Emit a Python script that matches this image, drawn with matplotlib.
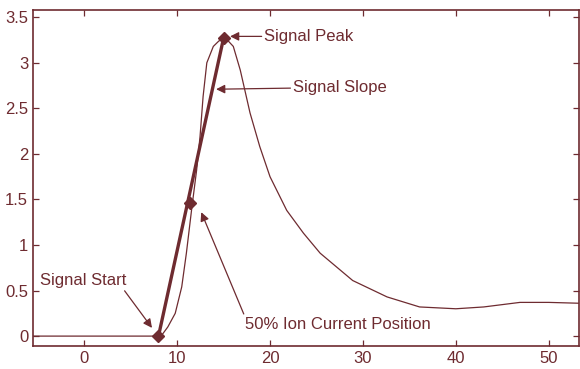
import numpy as np
import matplotlib.pyplot as plt

color = '#6e2b30'

# thin signal curve
t = [-5.5, 8, 8.35, 9, 9.8, 10.5, 11.0, 11.6, 12.1, 12.47, 12.8, 13.2, 13.9, 14.5, 15.0, 15.5,
     16.05, 16.8, 17.85, 18.9, 20.0, 21.8, 23.6, 25.4, 28.9, 32.6, 36.1, 40, 43, 46.9, 50, 53.5]
signal = [0, 0, 0.01, 0.1, 0.25, 0.54, 0.91, 1.42, 1.82, 2.19, 2.63, 3.0, 3.18, 3.24, 3.26, 3.24,
          3.18, 2.92, 2.45, 2.08, 1.75, 1.38, 1.13, 0.91, 0.61, 0.43, 0.32, 0.3, 0.32, 0.37, 0.37, 0.36]

# slope line and marked points
slope_x = [8, 15]
slope_y = [0, 3.27]
marks_x = [8, 11.4, 15]
marks_y = [0, 1.46, 3.27]

xticks = [0, 10, 20, 30, 40, 50]
yticks = [0, 0.5, 1, 1.5, 2, 2.5, 3, 3.5]
ytick_labels = ['0', '0.5', '1', '1.5', '2', '2.5', '3', '3.5']

plt.rcParams['font.family'] = ['Liberation Sans', 'DejaVu Sans']

fig = plt.figure(figsize=(5.8, 3.69), dpi=100)
ax = fig.add_axes([0.057, 0.062, 0.942, 0.911])

ax.plot(t, signal, color=color, lw=0.9)
ax.plot(slope_x, slope_y, color=color, lw=2.4)
ax.plot(marks_x, marks_y, 'D', color=color, ms=6)

ap = dict(arrowstyle='-|>', color=color, lw=0.9, mutation_scale=13, shrinkA=0, shrinkB=0)
ax.annotate('Signal Peak', xy=(15.7, 3.29), xytext=(19.4, 3.29), va='center',
            fontsize=12, color=color, arrowprops=ap)
ax.annotate('Signal Slope', xy=(14.2, 2.71), xytext=(22.5, 2.73), va='center',
            fontsize=12, color=color, arrowprops=ap)
ax.annotate('Signal Start', xy=(7.3, 0.09), xytext=(-4.7, 0.61), va='center',
            fontsize=12, color=color,
            arrowprops=dict(ap, relpos=(0.95, 0)))
ax.annotate('50% Ion Current Position', xy=(12.6, 1.36), xytext=(17.3, 0.13), va='center',
            fontsize=12, color=color,
            arrowprops=dict(ap, relpos=(0.0, 1.0)))

ax.set_xlim(-5.5, 53.3)
ax.set_ylim(-0.11, 3.58)
ax.set_xticks(xticks)
ax.set_yticks(yticks)
ax.set_yticklabels(ytick_labels)
ax.tick_params(direction='in', top=True, right=True, colors=color, labelsize=12, length=4, width=0.9)
for s in ax.spines.values():
    s.set_color(color)
    s.set_linewidth(1.2)

fig.savefig('out.png', dpi=100)
